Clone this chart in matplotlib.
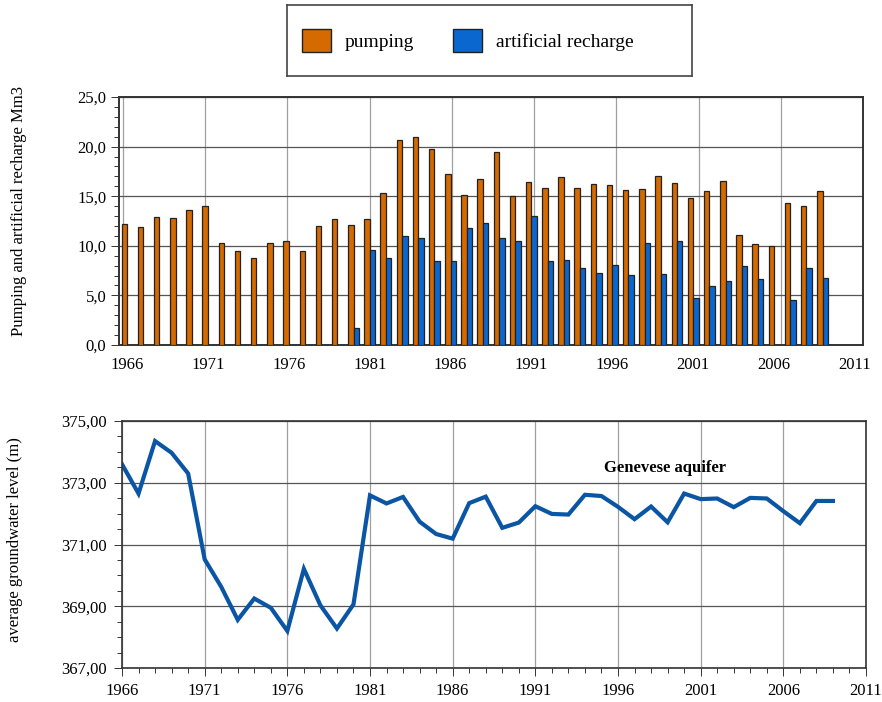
import matplotlib
matplotlib.use('Agg')
import matplotlib.pyplot as plt
import numpy as np
from matplotlib.patches import Patch
from matplotlib.ticker import FuncFormatter, MultipleLocator

plt.rcParams['font.family'] = ['Liberation Serif', 'DejaVu Serif']

years = np.arange(1966, 2010)
# yearly volumes, Mm3
pumping = [12.2, 11.9, 12.9, 12.8, 13.6, 14.0, 10.3, 9.5, 8.8, 10.3,
           10.5, 9.5, 12.0, 12.7, 12.1, 12.7, 15.3, 20.7, 21.0, 19.8,
           17.2, 15.1, 16.7, 19.5, 15.0, 16.4, 15.8, 16.9, 15.8, 16.2,
           16.1, 15.6, 15.7, 17.0, 16.3, 14.8, 15.5, 16.5, 11.1, 10.2,
           10.0, 14.3, 14.0, 15.5]
recharge = [0, 0, 0, 0, 0, 0, 0, 0, 0, 0,
            0, 0, 0, 0, 1.7, 9.6, 8.8, 11.0, 10.8, 8.5,
            8.5, 11.8, 12.3, 10.8, 10.5, 13.0, 8.5, 8.6, 7.8, 7.3,
            8.1, 7.1, 10.3, 7.2, 10.5, 4.7, 5.9, 6.5, 8.0, 6.7,
            0, 4.5, 7.8, 6.8]
# average groundwater level, m
level = [373.60, 372.65, 374.35, 373.97, 373.30, 370.52, 369.63, 368.56, 369.25, 368.95,
         368.20, 370.21, 369.03, 368.28, 369.06, 372.59, 372.33, 372.54, 371.74, 371.34,
         371.19, 372.34, 372.55, 371.54, 371.71, 372.24, 371.99, 371.97, 372.61, 372.57,
         372.22, 371.82, 372.23, 371.72, 372.65, 372.47, 372.49, 372.21, 372.51, 372.49,
         372.08, 371.69, 372.41, 372.41]
label_years = np.arange(1966, 2012, 5)
level_ticks = np.arange(367, 376, 2)

orange = '#d46a00'
blue = '#0a67d0'
line_blue = '#0b55a5'
spine_c = '#333333'
hgrid = '#555555'
vgrid = '#a0a0a0'

fig = plt.figure(figsize=(8.82, 7.02), dpi=100)

# legend box
lax = fig.add_axes([287 / 882, 1 - 76 / 702, 405 / 882, 71 / 702])
lax.set_xticks([])
lax.set_yticks([])
for s in lax.spines.values():
    s.set_color('#444444')
    s.set_linewidth(1.2)
handles = [Patch(facecolor=orange, edgecolor='#222222', linewidth=1.0, label='pumping'),
           Patch(facecolor=blue, edgecolor='#222222', linewidth=1.0, label='artificial recharge')]
lax.legend(handles=handles, loc='center left', bbox_to_anchor=(0.037, 0.5),
           ncol=2, frameon=False, fontsize=14, handlelength=1.5, handleheight=1.5,
           handletextpad=0.7, columnspacing=2.0, borderpad=0, borderaxespad=0)

# top panel: bars
ax1 = fig.add_axes([119 / 882, 1 - 345 / 702, 744 / 882, 248 / 702])
ax1.set_xlim(1965.77, 2011.0)
ax1.set_ylim(0, 25)
ax1.set_xticks(label_years)
ax1.yaxis.set_major_locator(MultipleLocator(5))
ax1.yaxis.set_minor_locator(MultipleLocator(1))
ax1.grid(axis='y', color=hgrid, linewidth=0.9)
ax1.grid(axis='x', color=vgrid, linewidth=0.9)
ax1.set_axisbelow(True)
ax1.tick_params(axis='x', length=0, labelbottom=False)
ax1.tick_params(axis='y', which='major', length=6, width=0.7, color=spine_c,
                labelsize=12, pad=3)
ax1.tick_params(axis='y', which='minor', length=3.5, width=0.7, color=spine_c)
ax1.yaxis.set_major_formatter(FuncFormatter(lambda v, p: f'{v:.1f}'.replace('.', ',')))
ax1.set_ylabel('Pumping and artificial recharge Mm3', fontsize=12)
ax1.yaxis.set_label_coords(-0.124, 0.54)

axb = ax1.twiny()
idx = np.arange(len(years))
rec = np.array(recharge)
has_rec = rec > 0
axb.bar(idx - 0.17, pumping, width=0.34, color=orange, edgecolor='#222222',
        linewidth=0.9, zorder=3)
axb.bar(idx[has_rec] + 0.17, rec[has_rec], width=0.34, color=blue,
        edgecolor='#222222', linewidth=0.9, zorder=3)
axb.set_xlim(-0.5, 45.5)
axb.xaxis.set_ticks_position('bottom')
axb.xaxis.set_label_position('bottom')
axb.set_xticks(label_years - 1966)
axb.set_xticklabels([str(y) for y in label_years])
axb.tick_params(axis='x', length=0, labelsize=12, pad=9)
for s in list(ax1.spines.values()) + list(axb.spines.values()):
    s.set_color(spine_c)
    s.set_linewidth(1.2)

# bottom panel: groundwater level
ax2 = fig.add_axes([122 / 882, 1 - 668 / 702, 744 / 882, 247 / 702])
ax2.plot(years, level, color=line_blue, linewidth=3.0, solid_joinstyle='miter')
ax2.set_xlim(1966, 2011)
ax2.set_ylim(367, 375)
ax2.set_xticks(label_years)
ax2.set_yticks(level_ticks)
ax2.xaxis.set_minor_locator(MultipleLocator(1))
ax2.yaxis.set_minor_locator(MultipleLocator(0.5))
ax2.grid(axis='y', color=hgrid, linewidth=0.9)
ax2.grid(axis='x', color=vgrid, linewidth=0.9)
ax2.set_axisbelow(True)
ax2.tick_params(which='major', length=6, width=0.7, color=spine_c, labelsize=12)
ax2.tick_params(which='minor', length=3.5, width=0.7, color=spine_c)
ax2.tick_params(axis='x', pad=5)
ax2.tick_params(axis='y', pad=5)
ax2.yaxis.set_major_formatter(FuncFormatter(lambda v, p: f'{v:.2f}'.replace('.', ',')))
ax2.set_ylabel('average groundwater level (m)', fontsize=12)
ax2.yaxis.set_label_coords(-0.133, 0.518)
ax2.text(1998.85, 373.49, 'Genevese aquifer', ha='center', va='center',
         fontsize=12, fontweight='bold')
for s in ax2.spines.values():
    s.set_color(spine_c)
    s.set_linewidth(1.2)

fig.savefig('out.png', dpi=100)
